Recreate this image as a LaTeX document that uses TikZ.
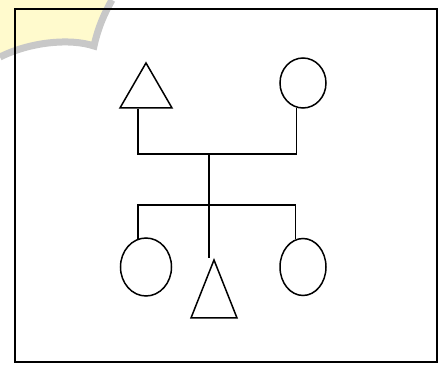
\documentclass[tikz,border=0pt]{standalone}
\usepackage{tikz}
\usetikzlibrary{shapes.geometric,positioning}

\definecolor{markyellow}{RGB}{255,250,205}
\definecolor{markgray}{RGB}{200,200,200}

\begin{document}
\begin{tikzpicture}[
  x=1pt, y=-1pt,
  line/.style={line width=1.5pt, black},
  male/.style={isosceles triangle, draw, line width=1.5pt, shape border rotate=90,
    isosceles triangle stretches, inner sep=0pt, anchor=apex},
  female/.style={ellipse, draw, line width=1.5pt, inner sep=0pt}
]
\useasboundingbox (0,0) rectangle (440,366);
% Watermark corner
\fill[markyellow] (0,0) -- (112,0) .. controls (104,14) and (98,28) .. (94,46)
  .. controls (70,38) and (30,42) .. (0,57) -- cycle;
\draw[markgray, line width=7pt] (0,57) .. controls (30,42) and (70,38) .. (94,46)
  .. controls (98,28) and (104,14) .. (112,0);
% Frame
\draw[line width=1.6pt] (15,9) rectangle (437,362);

% Parents
\node[male, minimum width=52pt, minimum height=45pt] (father) at (146,61) {};
\node[female, minimum width=46pt, minimum height=50pt] (mother) at (303,83) {};
% Children
\node[female, minimum width=51pt, minimum height=58pt] (daughterA) at (146,267) {};
\node[male, minimum width=46pt, minimum height=58pt] (son) at (214,258) {};
\node[female, minimum width=46pt, minimum height=57pt] (daughterB) at (303,267) {};

\coordinate (top) at (209,154);
\coordinate (sib) at (209,205);
% Marriage line
\draw[line] ([xshift=-8pt]father.lower side) |- (top) -| (mother.255);
% Descent line
\draw[line] (top) -- (top |- son.apex);
% Sibling line
\draw[line] (daughterA.106) |- (sib) -| (daughterB.105);
\end{tikzpicture}
\end{document}
